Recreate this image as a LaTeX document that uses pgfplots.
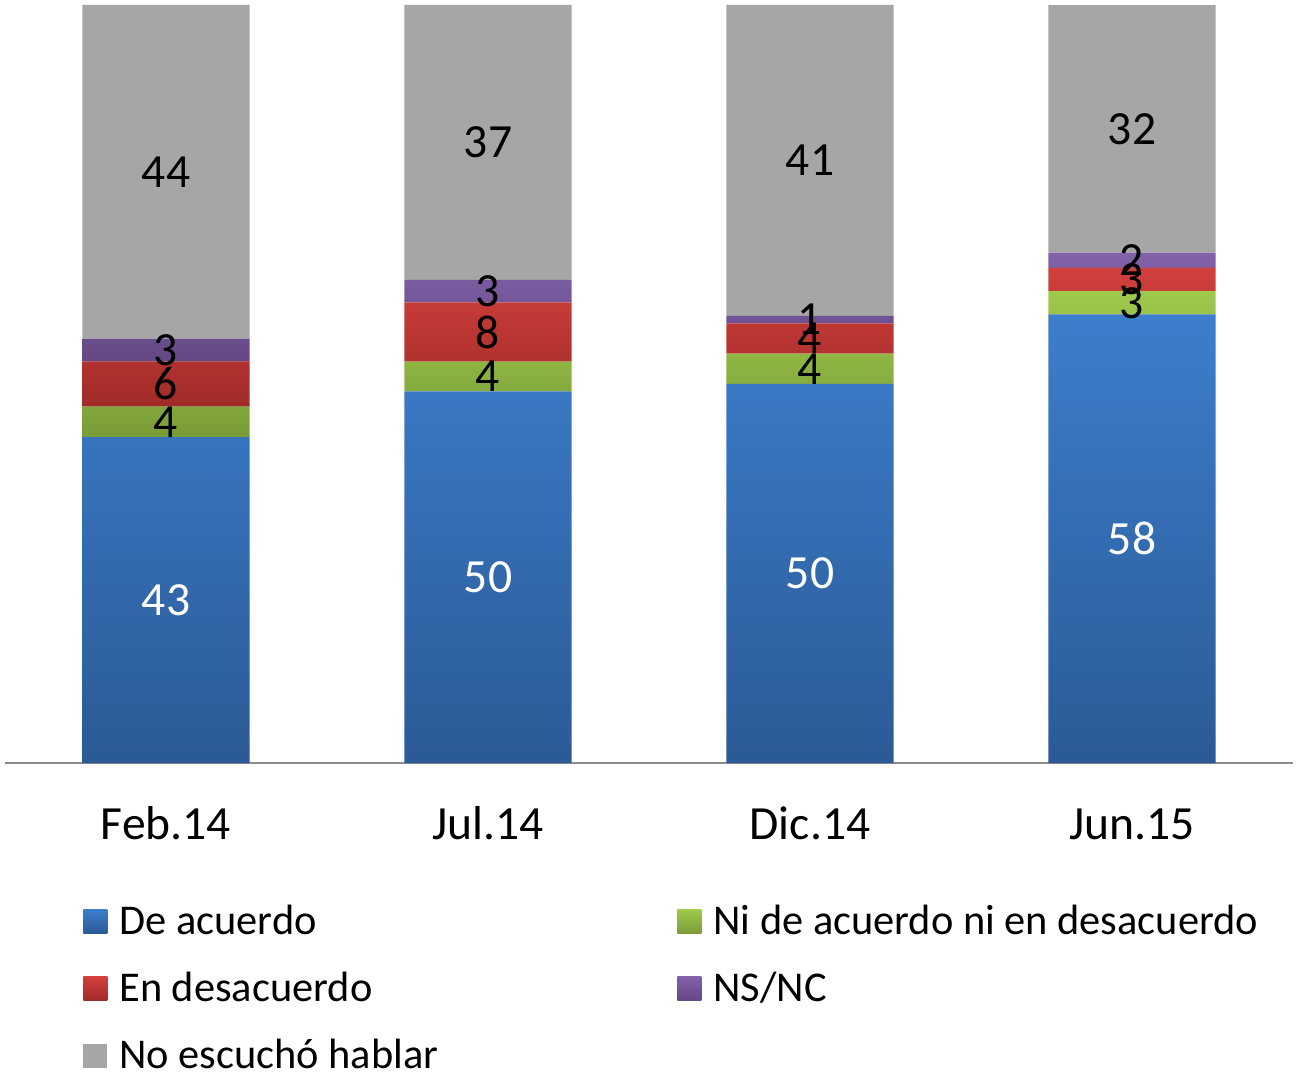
\documentclass[border=0pt]{standalone}
\usepackage{pgfplots}
\pgfplotsset{compat=1.18}
\usepackage{pgfplotstable}
\usepackage{fontspec}
\setmainfont{Carlito}

% segment shading colours (top / bottom)
\definecolor{agreeTop}{HTML}{3C7ECC}
\definecolor{agreeBot}{HTML}{2B5A96}
\definecolor{neitherTop}{HTML}{9FCA4C}
\definecolor{neitherBot}{HTML}{7A9C38}
\definecolor{disagreeTop}{HTML}{D2403C}
\definecolor{disagreeBot}{HTML}{A02B29}
\definecolor{nsncTop}{HTML}{8262AA}
\definecolor{nsncBot}{HTML}{634884}
\definecolor{noheard}{HTML}{A6A6A6}
\definecolor{baseline}{HTML}{8C8C8C}

% answers per survey wave (percent); total = row sum, used for the 100% stacking
\pgfplotstableread{
x agree neither disagree nsnc noheard total
0 43    4       6        3    44      100
1 50    4       8        3    37      102
2 50    4       4        1    41      100
3 58    3       3        2    32      98
}\surveydata

\newcommand{\labelfont}{\fontsize{23.8pt}{28pt}\selectfont}
\newcommand{\legendfont}{\fontsize{21.2pt}{25pt}\selectfont}

\pgfplotsset{
  panel/.style={
    at={(2.5pt,154.5pt)}, anchor=south west,
    scale only axis, width=644pt, height=379pt,
    xmin=-0.5, xmax=3.5, ymin=0, ymax=100,
  },
}

\begin{document}
\begin{tikzpicture}[x=1pt,y=1pt]
\useasboundingbox (0,0) rectangle (648.5,536);
% stacked bars, normalised to 100 per wave
\begin{axis}[
  panel,
  ybar stacked, bar width=83.5pt,
  axis x line=bottom, axis y line=none,
  x axis line style={-, draw=baseline, line width=1pt},
  xtick={0,1,2,3},
  xticklabels={Feb.14, Jul.14, Dic.14, Jun.15},
  major tick length=0pt,
  xticklabel style={font=\labelfont, anchor=base, yshift=-38pt},
  legend columns=2,
  legend cell align=left,
  legend image code/.code={\path[#1] (0pt,-6pt) rectangle (12pt,6pt);},
  legend style={at={(axis description cs:0,0)}, anchor=north west,
    xshift=39pt, yshift=-69pt, draw=none, fill=none, font=\legendfont,
    inner sep=0pt, row sep=13.25pt,
    /tikz/every odd column/.append style={column sep=4pt},
    /tikz/column 2/.style={column sep=117.5pt}},
]
\addplot[draw=none, top color=agreeTop, bottom color=agreeBot]
  table[x=x, y expr=\thisrow{agree}*100/\thisrow{total}] {\surveydata};
\addplot[draw=none, top color=neitherTop, bottom color=neitherBot]
  table[x=x, y expr=\thisrow{neither}*100/\thisrow{total}] {\surveydata};
\addplot[draw=none, top color=disagreeTop, bottom color=disagreeBot]
  table[x=x, y expr=\thisrow{disagree}*100/\thisrow{total}] {\surveydata};
\addplot[draw=none, top color=nsncTop, bottom color=nsncBot]
  table[x=x, y expr=\thisrow{nsnc}*100/\thisrow{total}] {\surveydata};
\addplot[draw=none, fill=noheard]
  table[x=x, y expr=\thisrow{noheard}*100/\thisrow{total}] {\surveydata};
\legend{De acuerdo, Ni de acuerdo ni en desacuerdo, En desacuerdo, NS/NC, No escuchó hablar}
\end{axis}
% value labels, centred in each segment
\begin{axis}[
  panel, hide axis,
  /pgf/number format/assume math mode=true,
  point meta=explicit,
  nodes near coords={\pgfmathprintnumber[fixed,precision=0]{\pgfplotspointmeta}},
  every node near coord/.append style={font=\labelfont, anchor=center, inner sep=0pt},
]
\addplot[draw=none, mark=none, every node near coord/.append style={text=white}]
  table[x=x, y expr={(\thisrow{agree}/2)*100/\thisrow{total}}, meta=agree] {\surveydata};
\addplot[draw=none, mark=none]
  table[x=x, y expr={(\thisrow{agree}+\thisrow{neither}/2)*100/\thisrow{total}}, meta=neither] {\surveydata};
\addplot[draw=none, mark=none]
  table[x=x, y expr={(\thisrow{agree}+\thisrow{neither}+\thisrow{disagree}/2)*100/\thisrow{total}}, meta=disagree] {\surveydata};
\addplot[draw=none, mark=none]
  table[x=x, y expr={(\thisrow{agree}+\thisrow{neither}+\thisrow{disagree}+\thisrow{nsnc}/2)*100/\thisrow{total}}, meta=nsnc] {\surveydata};
\addplot[draw=none, mark=none]
  table[x=x, y expr={(\thisrow{total}-\thisrow{noheard}/2)*100/\thisrow{total}}, meta=noheard] {\surveydata};
\end{axis}
\end{tikzpicture}
\end{document}
